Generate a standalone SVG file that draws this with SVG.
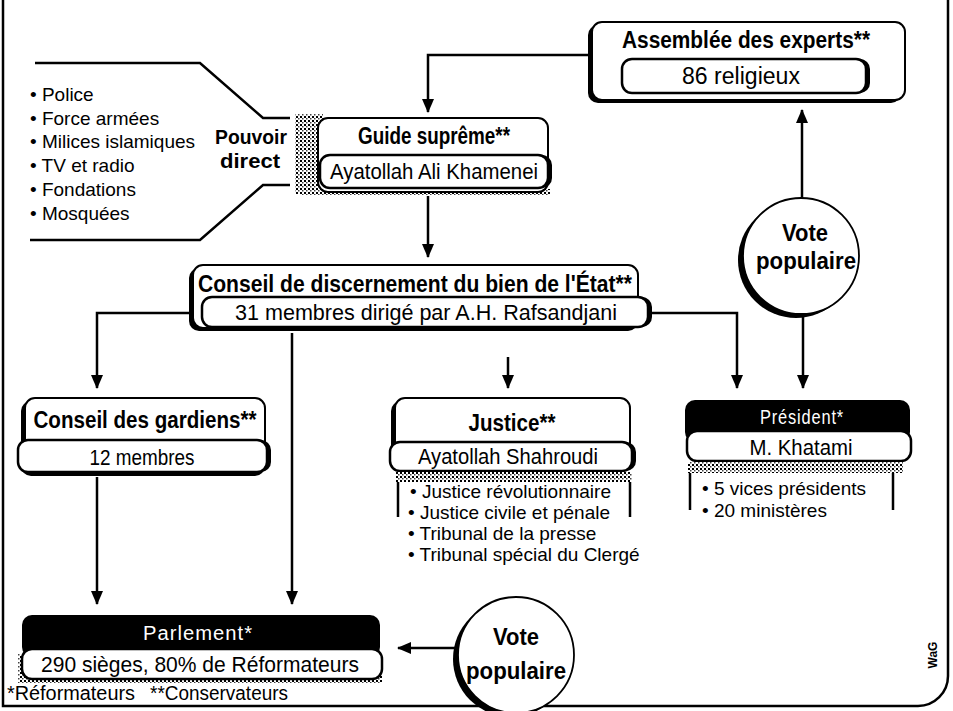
<svg xmlns="http://www.w3.org/2000/svg" width="953" height="711" viewBox="0 0 953 711">
<defs>
<marker id="ah" markerWidth="14" markerHeight="14" viewBox="0 0 14 14" refX="13" refY="7" orient="auto" markerUnits="userSpaceOnUse">
<path d="M0,1 L14,7 L0,13 z" fill="#000"/>
</marker>
<pattern id="spk" width="4" height="4" patternUnits="userSpaceOnUse">
<rect width="4" height="4" fill="#fff"/>
<rect x="0" y="0" width="2" height="2" fill="#000"/>
<rect x="2" y="2" width="1.5" height="1.5" fill="#444"/>
</pattern>
<style>
.ln{fill:none;stroke:#000;stroke-width:2.5}
.fr{fill:none;stroke:#000;stroke-width:2.5}
.bx{fill:#fff;stroke:#000;stroke-width:2}
.sh{fill:#000}
.ib{fill:#fff;stroke:#000;stroke-width:2.5}
.hd{fill:#000}
.ci{fill:#fff;stroke:#000;stroke-width:1.8}
.t{font-family:"Liberation Sans",Arial,sans-serif;font-weight:bold;font-size:23px;fill:#000}
.r{font-family:"Liberation Sans",Arial,sans-serif;font-size:22px;fill:#000}
.l{font-family:"Liberation Sans",Arial,sans-serif;font-size:19px;fill:#000}
.w{font-family:"Liberation Sans",Arial,sans-serif;font-size:20px;fill:#fff;letter-spacing:1px}
.g{font-family:"Liberation Sans",Arial,sans-serif;font-weight:bold;font-size:12px;fill:#000}
</style>
</defs>

<g id="frame">
<path class="fr" d="M3,0 V706 H918 A30,30 0 0 0 948,676 V0"/>
</g>

<g id="connectors">
<path class="ln" d="M592,55 H428 V112" marker-end="url(#ah)"/>
<path class="ln" d="M428,196 V257" marker-end="url(#ah)"/>
<path class="ln" d="M802,198 V110" marker-end="url(#ah)"/>
<path class="ln" d="M803,316 V388" marker-end="url(#ah)"/>
<path class="ln" d="M202,313 H97 V388" marker-end="url(#ah)"/>
<path class="ln" d="M292,333 V604" marker-end="url(#ah)"/>
<path class="ln" d="M508,357 V388" marker-end="url(#ah)"/>
<path class="ln" d="M648,313 H737 V388" marker-end="url(#ah)"/>
<path class="ln" d="M97,477 V604" marker-end="url(#ah)"/>
<path class="ln" d="M462,648 H398" marker-end="url(#ah)"/>
</g>

<g id="pouvoir-direct">
<path class="ln" d="M35,63 H200 L263,118 H290"/>
<path class="ln" d="M30,240 H200 L263,185 H290"/>
<text class="l" x="30" y="101">• Police</text>
<text class="l" x="30" y="125">• Force armées</text>
<text class="l" x="30" y="148">• Milices islamiques</text>
<text class="l" x="30" y="172">• TV et radio</text>
<text class="l" x="30" y="196">• Fondations</text>
<text class="l" x="30" y="220">• Mosquées</text>
<text class="t" x="287" y="144" style="font-size:20px" text-anchor="end" textLength="72" lengthAdjust="spacingAndGlyphs">Pouvoir</text>
<text class="t" x="280" y="168" style="font-size:20px" text-anchor="end" textLength="60" lengthAdjust="spacingAndGlyphs">direct</text>
</g>

<g id="assemblee">
<rect class="sh" x="588" y="25" width="313" height="78" rx="10"/>
<rect class="bx" x="592" y="22" width="313" height="78" rx="10"/>
<text class="t" x="746" y="48" text-anchor="middle" textLength="248" lengthAdjust="spacingAndGlyphs">Assemblée des experts**</text>
<rect class="sh" x="626" y="59" width="244" height="34" rx="10"/>
<rect class="ib" x="622" y="59" width="244" height="34" rx="10"/>
<text class="r" x="741" y="84" text-anchor="middle" style="font-size:23px" textLength="118" lengthAdjust="spacingAndGlyphs">86 religieux</text>
</g>

<g id="guide">
<rect fill="url(#spk)" x="295" y="114" width="28" height="80"/>
<rect fill="url(#spk)" x="300" y="189" width="250" height="6"/>
<rect class="bx" x="318" y="118" width="230" height="74" rx="10"/>
<text class="t" x="434" y="144" text-anchor="middle" textLength="152" lengthAdjust="spacingAndGlyphs">Guide suprême**</text>
<rect class="sh" x="324" y="155" width="228" height="33" rx="10"/>
<rect class="ib" x="320" y="155" width="228" height="33" rx="10"/>
<text class="r" x="434" y="179" text-anchor="middle" textLength="208" lengthAdjust="spacingAndGlyphs">Ayatollah Ali Khamenei</text>
</g>

<g id="conseil-discernement">
<rect class="sh" x="189" y="268" width="449" height="63" rx="10"/>
<rect class="bx" x="193" y="265" width="445" height="63" rx="10"/>
<text class="t" x="415" y="292" text-anchor="middle" textLength="434" lengthAdjust="spacingAndGlyphs">Conseil de discernement du bien de l'État**</text>
<rect class="sh" x="206" y="297" width="446" height="30" rx="10"/>
<rect class="ib" x="202" y="297" width="446" height="30" rx="10"/>
<text class="r" x="426" y="320" text-anchor="middle" textLength="382" lengthAdjust="spacingAndGlyphs">31 membres dirigé par A.H. Rafsandjani</text>
</g>

<g id="vote-1">
<circle class="sh" cx="796" cy="260" r="58"/>
<circle class="ci" cx="801" cy="256" r="58"/>
<text class="t" x="805" y="241" text-anchor="middle" textLength="46" lengthAdjust="spacingAndGlyphs">Vote</text>
<text class="t" x="806" y="269" text-anchor="middle" textLength="100" lengthAdjust="spacingAndGlyphs">populaire</text>
</g>

<g id="conseil-gardiens">
<rect class="sh" x="21" y="401" width="244" height="75" rx="10"/>
<rect class="bx" x="25" y="398" width="240" height="75" rx="10"/>
<text class="t" x="145" y="428" text-anchor="middle" textLength="223" lengthAdjust="spacingAndGlyphs">Conseil des gardiens**</text>
<rect class="sh" x="22" y="440" width="249" height="32" rx="10"/>
<rect class="ib" x="18" y="440" width="249" height="32" rx="10"/>
<text class="r" x="142" y="465" text-anchor="middle" textLength="105" lengthAdjust="spacingAndGlyphs">12 membres</text>
</g>

<g id="justice">
<rect class="sh" x="391" y="401" width="239" height="70" rx="10"/>
<rect class="bx" x="395" y="398" width="235" height="70" rx="10"/>
<text class="t" x="512" y="431" text-anchor="middle" textLength="87" lengthAdjust="spacingAndGlyphs">Justice**</text>
<rect class="sh" x="394" y="442" width="242" height="29" rx="10"/>
<rect class="ib" x="390" y="442" width="242" height="29" rx="10"/>
<text class="r" x="508" y="464" text-anchor="middle" textLength="180" lengthAdjust="spacingAndGlyphs">Ayatollah Shahroudi</text>
<rect fill="url(#spk)" x="396" y="472" width="236" height="10"/>
<path class="ln" d="M398,482 V517 M630,482 V517"/>
<text class="l" x="410" y="498">• Justice révolutionnaire</text>
<text class="l" x="408" y="519">• Justice civile et pénale</text>
<text class="l" x="408" y="540">• Tribunal de la presse</text>
<text class="l" x="408" y="561">• Tribunal spécial du Clergé</text>
</g>

<g id="president">
<rect class="hd" x="685" y="400" width="225" height="42" rx="10"/>
<text class="w" x="802" y="424" text-anchor="middle" textLength="84" lengthAdjust="spacingAndGlyphs">Président*</text>
<rect class="ib" x="687" y="431" width="224" height="30" rx="10"/>
<text class="r" x="801" y="455" text-anchor="middle" textLength="103" lengthAdjust="spacingAndGlyphs">M. Khatami</text>
<rect fill="url(#spk)" x="688" y="462" width="215" height="11"/>
<path class="ln" d="M690,473 V510 M893,473 V510"/>
<text class="l" x="702" y="495">• 5 vices présidents</text>
<text class="l" x="702" y="517">• 20 ministères</text>
</g>

<g id="parlement">
<rect class="hd" x="22" y="615" width="358" height="42" rx="10"/>
<text class="w" x="198" y="640" text-anchor="middle" textLength="110" lengthAdjust="spacingAndGlyphs">Parlement*</text>
<rect fill="url(#spk)" x="18" y="654" width="364" height="29"/>
<rect class="ib" x="22" y="649" width="360" height="30" rx="10"/>
<text class="r" x="200" y="672" text-anchor="middle" textLength="318" lengthAdjust="spacingAndGlyphs">290 sièges, 80% de Réformateurs</text>
</g>

<g id="vote-2">
<circle class="sh" cx="511" cy="659" r="58"/>
<circle class="ci" cx="516" cy="655" r="58"/>
<text class="t" x="516" y="645" text-anchor="middle" textLength="46" lengthAdjust="spacingAndGlyphs">Vote</text>
<text class="t" x="516" y="679" text-anchor="middle" textLength="100" lengthAdjust="spacingAndGlyphs">populaire</text>
</g>

<g id="legend">
<text class="l" x="7" y="700" style="font-size:20px" textLength="128" lengthAdjust="spacingAndGlyphs">*Réformateurs</text>
<text class="l" x="150" y="700" style="font-size:20px" textLength="138" lengthAdjust="spacingAndGlyphs">**Conservateurs</text>
<text class="g" transform="translate(937,655) rotate(-90)" text-anchor="middle">WaG</text>
</g>
</svg>
